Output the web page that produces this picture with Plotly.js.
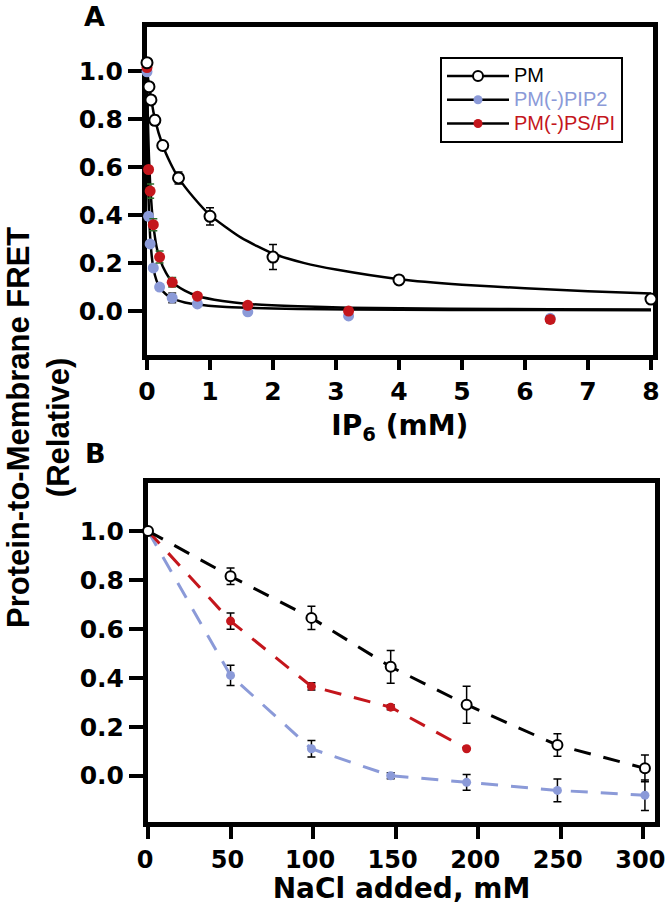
<!DOCTYPE html>
<html>
<head>
<meta charset="utf-8">
<script src="https://cdn.plot.ly/plotly-3.0.1.min.js"></script>
<style>html,body{margin:0;padding:0;background:#fff;}#chart{width:666px;height:905px;}</style>
</head>
<body>
<div id="chart"></div>
<script>
// ---------- Panel A : IP6 titration ----------
const ipTicks = [0, 1, 2, 3, 4, 5, 6, 7, 8];
const ipPM_x = [0, 0.03125, 0.0625, 0.125, 0.25, 0.5, 1, 2, 4, 8];
const ipPM_y = [1.035, 0.935, 0.88, 0.795, 0.69, 0.555, 0.395, 0.225, 0.13, 0.05];
const ipPM_err = [0, 0, 0, 0.02, 0, 0.025, 0.036, 0.052, 0, 0];

const ipPIP2_x = [0, 0.025, 0.05, 0.1, 0.2, 0.4, 0.8, 1.6, 3.2, 6.4];
const ipPIP2_y = [0.997, 0.395, 0.28, 0.18, 0.10, 0.055, 0.03, -0.003, -0.02, -0.03];
const ipPIP2_err = [0, 0.01, 0.01, 0.01, 0.01, 0.02, 0.01, 0.005, 0.01, 0.01];

const ipPSPI_x = [0, 0.025, 0.05, 0.1, 0.2, 0.4, 0.8, 1.6, 3.2, 6.4];
const ipPSPI_y = [1.015, 0.59, 0.50, 0.36, 0.225, 0.12, 0.062, 0.024, 0.0, -0.035];
const ipPSPI_err = [0, 0.01, 0.03, 0.025, 0.025, 0.02, 0.01, 0.01, 0.01, 0.015];

// fitted curves
const fitPM_x = [0, 0.0625, 0.125, 0.25, 0.375, 0.5, 0.75, 1, 1.5, 2, 2.5, 3, 4, 5, 6, 7, 8];
const fitPM_y = [1.0, 0.89, 0.80, 0.69, 0.615, 0.555, 0.47, 0.40, 0.305, 0.24, 0.2, 0.173, 0.133, 0.11, 0.095, 0.083, 0.073];
const fitLow_x = [0, 0.005, 0.01, 0.02, 0.03, 0.05, 0.075, 0.1, 0.15, 0.2, 0.3, 0.4, 0.6, 0.8, 1.2, 1.6, 2.4, 3.2, 4.8, 6.4, 8];
const fitPSPI_y = [1.0, 0.92, 0.85, 0.74, 0.65, 0.53, 0.43, 0.36, 0.27, 0.22, 0.16, 0.122, 0.085, 0.063, 0.042, 0.03, 0.02, 0.014, 0.01, 0.008, 0.007];
const fitPIP2_y = [1.0, 0.82, 0.69, 0.52, 0.42, 0.31, 0.23, 0.18, 0.128, 0.10, 0.07, 0.053, 0.036, 0.027, 0.018, 0.014, 0.009, 0.007, 0.005, 0.004, 0.003];

// ---------- Panel B : NaCl titration ----------
const naclTicks = [0, 50, 100, 150, 200, 250, 300];
const naclPM_x = [0, 50, 99, 147, 193, 248, 301];
const naclPM_y = [1.0, 0.815, 0.645, 0.445, 0.29, 0.125, 0.03];
const naclPM_err = [0, 0.034, 0.048, 0.067, 0.076, 0.046, 0.055];
const naclPSPI_x = [0, 50, 99, 147, 193];
const naclPSPI_y = [1.0, 0.632, 0.365, 0.28, 0.11];
const naclPSPI_err = [0, 0.033, 0.015, 0.01, 0];
const naclPIP2_x = [0, 50, 99, 147, 193, 248, 301];
const naclPIP2_y = [1.0, 0.41, 0.11, 0.0, -0.027, -0.06, -0.08];
const naclPIP2_err = [0, 0.041, 0.034, 0.012, 0.032, 0.046, 0.062];

const yTicks = [0, 0.2, 0.4, 0.6, 0.8, 1.0];
const seriesNames = ['PM', 'PM(-)PIP2', 'PM(-)PS/PI'];

const BLACK = '#000000', BLUE = '#8b9ad8', RED = '#c4161c', GREEN = '#2f6d2f';
const BOLD = 'DejaVu Sans, Arial, sans-serif';
const DASH = '17px,13px';

function errs(arr, color) {
  return {type: 'data', array: arr, visible: true, color: color, thickness: 1.5, width: 4};
}
function legendName(name, color) {
  return '<span style="font-size:20px;color:' + color + '">' + name + '</span>';
}

const fitLine = {color: BLACK, width: 2.5, shape: 'spline', smoothing: 0.6};

const traces = [
  // Panel A fit curves
  {x: fitLow_x, y: fitPIP2_y, xaxis: 'x', yaxis: 'y', mode: 'lines', line: fitLine, showlegend: false, hoverinfo: 'skip'},
  {x: fitLow_x, y: fitPSPI_y, xaxis: 'x', yaxis: 'y', mode: 'lines', line: fitLine, showlegend: false, hoverinfo: 'skip'},
  {x: fitPM_x, y: fitPM_y, xaxis: 'x', yaxis: 'y', mode: 'lines', line: fitLine, showlegend: false, hoverinfo: 'skip'},
  // Panel A data
  {x: ipPIP2_x, y: ipPIP2_y, xaxis: 'x', yaxis: 'y', mode: 'markers', error_y: errs(ipPIP2_err, '#333333'),
   marker: {color: BLUE, size: 11}, cliponaxis: false, showlegend: false},
  {x: ipPSPI_x, y: ipPSPI_y, xaxis: 'x', yaxis: 'y', mode: 'markers', error_y: errs(ipPSPI_err, GREEN),
   marker: {color: RED, size: 11}, cliponaxis: false, showlegend: false},
  {x: ipPM_x, y: ipPM_y, xaxis: 'x', yaxis: 'y', mode: 'markers', error_y: errs(ipPM_err, BLACK),
   marker: {color: '#ffffff', size: 11, line: {color: BLACK, width: 2}}, cliponaxis: false, showlegend: false},
  // Panel B
  {x: naclPIP2_x, y: naclPIP2_y, xaxis: 'x2', yaxis: 'y2', mode: 'lines+markers', error_y: errs(naclPIP2_err, BLACK),
   line: {color: BLUE, width: 3, dash: DASH}, marker: {color: BLUE, size: 9}, cliponaxis: false, showlegend: false},
  {x: naclPSPI_x, y: naclPSPI_y, xaxis: 'x2', yaxis: 'y2', mode: 'lines+markers', error_y: errs(naclPSPI_err, BLACK),
   line: {color: RED, width: 3, dash: DASH}, marker: {color: RED, size: 9}, cliponaxis: false, showlegend: false},
  {x: naclPM_x, y: naclPM_y, xaxis: 'x2', yaxis: 'y2', mode: 'lines+markers', error_y: errs(naclPM_err, BLACK),
   line: {color: BLACK, width: 3, dash: DASH}, marker: {color: '#ffffff', size: 10, line: {color: BLACK, width: 2}}, cliponaxis: false, showlegend: false},
  // legend entries
  {x: [null], y: [null], xaxis: 'x', yaxis: 'y', mode: 'lines+markers', name: legendName(seriesNames[0], BLACK),
   line: {color: BLACK, width: 2.5}, marker: {color: '#ffffff', size: 10, line: {color: BLACK, width: 2}}},
  {x: [null], y: [null], xaxis: 'x', yaxis: 'y', mode: 'lines+markers', name: legendName(seriesNames[1], BLUE),
   line: {color: BLACK, width: 2.5}, marker: {color: BLUE, size: 9}},
  {x: [null], y: [null], xaxis: 'x', yaxis: 'y', mode: 'lines+markers', name: legendName(seriesNames[2], RED),
   line: {color: BLACK, width: 2.5}, marker: {color: RED, size: 9}}
];

const axisCommon = {
  showline: true, linewidth: 5, linecolor: BLACK, mirror: true,
  showgrid: false, zeroline: false, ticks: 'outside', tickwidth: 4, tickcolor: BLACK,
  ticklabeloverflow: 'allow',
  tickfont: {family: BOLD, size: 25, color: BLACK, weight: 'bold'}, layer: 'below traces', fixedrange: true
};

const layout = {
  width: 666, height: 905,
  margin: {l: 0, r: 0, t: 0, b: 0},
  paper_bgcolor: '#ffffff', plot_bgcolor: '#ffffff',
  showlegend: true,
  legend: {x: 440 / 666, y: 1 - 57 / 905, xanchor: 'left', yanchor: 'top',
           bgcolor: '#ffffff', bordercolor: BLACK, borderwidth: 2, itemwidth: 62,
           font: {family: 'Liberation Sans, Arial, sans-serif', size: 16, color: BLACK}, traceorder: 'normal'},
  xaxis: Object.assign({}, axisCommon, {domain: [147 / 666, 0.98], range: [0, 8.027], tickvals: ipTicks, ticklen: 10,
    title: {text: 'IP<sub>6</sub> (mM)', font: {family: BOLD, size: 28, color: BLACK, weight: 'bold'}, standoff: 12}, anchor: 'y'}),
  yaxis: Object.assign({}, axisCommon, {domain: [1 - 355 / 905, 1 - 26.7 / 905], range: [-0.183, 1.185], tickvals: yTicks, tickformat: '.1f', ticklen: 14, anchor: 'x'}),
  xaxis2: Object.assign({}, axisCommon, {domain: [148 / 666, 655 / 666], range: [0, 307.1], tickvals: naclTicks, ticklen: 12,
    tickfont: {family: BOLD, size: 24, color: BLACK, weight: 'bold'}, ticklabelshift: -3,
    title: {text: 'NaCl added, mM', font: {family: BOLD, size: 28, color: BLACK, weight: 'bold'}, standoff: 6}, anchor: 'y2'}),
  yaxis2: Object.assign({}, axisCommon, {domain: [1 - 821.7 / 905, 1 - 483.3 / 905], range: [-0.188, 1.195], tickvals: yTicks, tickformat: '.1f', ticklen: 14, anchor: 'x2'}),
  annotations: [
    {text: 'Protein-to-Membrane FRET<br>(Relative)', xref: 'paper', yref: 'paper', x: 38 / 666, y: 1 - 428 / 905,
     xanchor: 'center', yanchor: 'middle', textangle: -90, showarrow: false,
     font: {family: 'Liberation Sans, Arial, sans-serif', size: 31, color: BLACK, weight: 'bold'}},
    {text: 'A', xref: 'paper', yref: 'paper', x: 94 / 666, y: 1 - 17 / 905, xanchor: 'center', yanchor: 'middle', showarrow: false,
     font: {family: BOLD, size: 27, color: BLACK, weight: 'bold'}},
    {text: 'B', xref: 'paper', yref: 'paper', x: 95 / 666, y: 1 - 453 / 905, xanchor: 'center', yanchor: 'middle', showarrow: false,
     font: {family: BOLD, size: 27, color: BLACK, weight: 'bold'}}
  ]
};

Plotly.newPlot('chart', traces, layout, {displayModeBar: false, staticPlot: true});
</script>
</body>
</html>
